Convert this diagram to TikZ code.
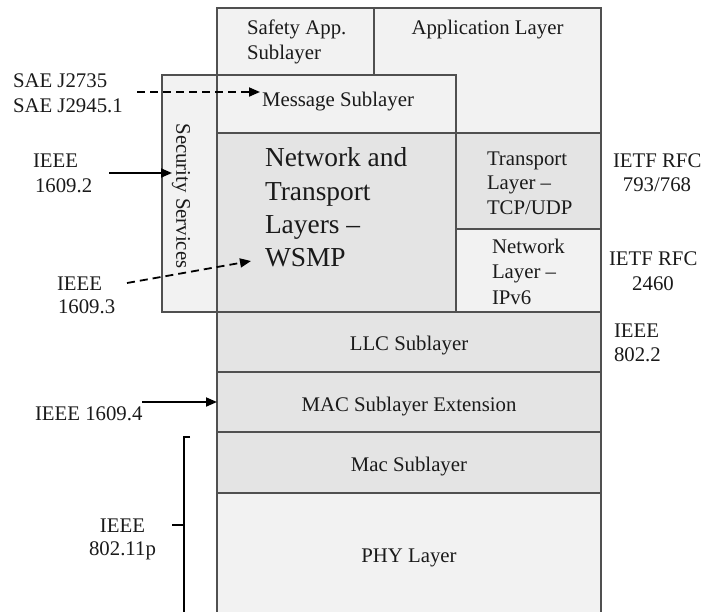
\documentclass[tikz,border=0pt]{standalone}
\usepackage{fontspec}
\setmainfont{Liberation Serif}
\usetikzlibrary{arrows.meta,fit}
\definecolor{paleFill}{HTML}{F2F2F2}
\definecolor{midFill}{HTML}{E4E4E4}
\definecolor{edgeGray}{HTML}{505050}
\definecolor{ink}{HTML}{1A1A1A}
\newcommand\lyrfont{\fontsize{20.8}{25}\selectfont}
\newcommand\lyrbigfont{\fontsize{27.4}{33}\selectfont}
\begin{document}
\begin{tikzpicture}[x=1pt,y=-1pt,
  layer/.style={draw=edgeGray, line width=1.2pt, inner sep=0pt, outer sep=0pt},
  pale/.style={layer, fill=paleFill},
  mid/.style={layer, fill=midFill},
  txt/.style={inner sep=0pt, outer sep=0pt, anchor=base west, text=ink, font=\lyrfont},
  txtc/.style={txt, anchor=base},
  txtm/.style={txt, anchor=center},
  bigtxt/.style={txt, font=\lyrbigfont},
  tip/.style={-{Triangle[length=11pt,width=9pt]}},
  ref/.style={line width=1.8pt, black, tip},
  dref/.style={ref, dash pattern=on 8pt off 5pt},
  brace/.style={line width=1.8pt, black},
]
\useasboundingbox (0,0) rectangle (702,611);

% ---- protocol stack boxes ----
\node[pale, fit={(217,8)(374,75)}]   (safety) {};
\node[pale, fit={(374,8)(601,133)}]  (app) {};
\node[pale, fit={(162,75)(217,312)}] (sec) {};
\node[pale, fit={(217,75)(456,133)}] (msg) {};
\node[mid,  fit={(217,133)(456,312)}] (nwt) {};
\node[mid,  fit={(456,133)(601,229)}] (tcp) {};
\node[pale, fit={(456,229)(601,312)}] (ipv) {};
\node[mid,  fit={(217,312)(601,372)}] (llc) {};
\node[mid,  fit={(217,372)(601,432)}] (macx) {};
\node[mid,  fit={(217,432)(601,493)}] (mac) {};
\node[pale, fit={(217,493)(601,617)}] (phy) {};

% ---- texts inside the boxes ----
\node[txt] (safetyA) at (247,34) {Safety App.};
\node[txt] (safetyB) at (247,59) {Sublayer};
\node[txtc] (applbl) at (487.5,34) {Application Layer};
\node[txtc] (msglbl) at (338,106) {Message Sublayer};
\node[txt, rotate=-90, anchor=center] (seclbl) at (181,196) {Security Services};

\node[bigtxt] (nwtA) at (265,166) {Network and};
\node[bigtxt] (nwtB) at (265,200) {Transport};
\node[bigtxt] (nwtC) at (265,233) {Layers \textendash};
\node[bigtxt] (nwtD) at (265,266) {WSMP};

\node[txt] (tcpA) at (487,165) {Transport};
\node[txt] (tcpB) at (487,189) {Layer \textendash};
\node[txt] (tcpC) at (487,214) {TCP/UDP};

\node[txt] (ipvA) at (492,253) {Network};
\node[txt] (ipvB) at (492,278) {Layer \textendash};
\node[txt] (ipvC) at (492,304) {IPv6};

\node[txtm] (llclbl)  at (409,346) {LLC Sublayer};
\node[txtm] (macxlbl) at (409,407) {MAC Sublayer Extension};
\node[txtm] (maclbl)  at (409,467) {Mac Sublayer};
\node[txtm] (phylbl)  at (409,558) {PHY Layer};

% ---- standards on the right ----
\node[txt]  (rfcA) at (613,167) {IETF RFC};
\node[txtc] (rfcB) at (657,191) {793/768};
\node[txt]  (rfcC) at (609,265) {IETF RFC};
\node[txtc] (rfcD) at (653,290) {2460};
\node[txt]  (llcA) at (614,337) {IEEE};
\node[txt]  (llcB) at (614,361) {802.2};

% ---- standards on the left ----
\node[txt] (saeA) at (13,87) {SAE J2735};
\node[txt] (saeB) at (13,112) {SAE J2945.1};
\node[txt] (secA) at (33,167) {IEEE};
\node[txt] (secB) at (35,192) {1609.2};
\node[txt] (wsmA) at (57,290) {IEEE};
\node[txt] (wsmB) at (58,313) {1609.3};
\node[txt] (macxA) at (35,420) {IEEE 1609.4};
\node[txtc] (phyA) at (122.5,532) {IEEE};
\node[txtc] (phyB) at (122.5,555) {802.11p};

% ---- connectors ----
\coordinate (saeTail) at (137,92);
\coordinate (saeHead) at (260,92);
\draw[dref] (saeTail) -- (saeHead);

\coordinate (secTail) at (109,173);
\coordinate (secHead) at (172,173);
\draw[ref] (secTail) -- (secHead);

\coordinate (wsmTail) at (127,283);
\coordinate (wsmHead) at (251,261);
\draw[dref] (wsmTail) -- (wsmHead);

\coordinate (macxTail) at (142,402);
\draw[ref] (macxTail) -- (macx.west);

% bracket spanning the 802.11p layers
\coordinate (brTop) at (190,437);
\coordinate (brCorner) at (184,437);
\coordinate (brBot) at (184,615);
\coordinate (brMid) at (184,525);
\coordinate (brTick) at (172,525);
\draw[brace] (brTop) -- (brCorner) -- (brBot);
\draw[brace] (brTick) -- (brMid);
\end{tikzpicture}
\end{document}
